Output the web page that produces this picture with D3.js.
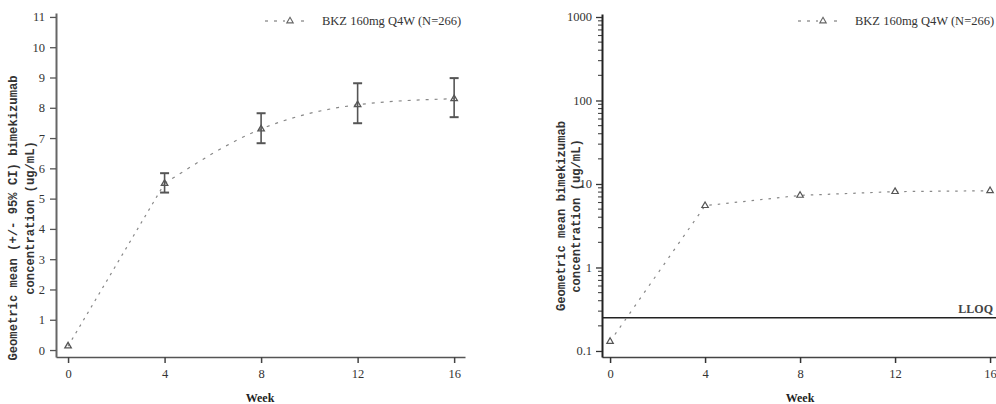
<!DOCTYPE html>
<html>
<head>
<meta charset="utf-8">
<script src="https://cdn.jsdelivr.net/npm/d3@7"></script>
<style>
  html, body { margin: 0; padding: 0; background: #fff; }
  svg { display: block; }
  .tick text { font-family: "Liberation Serif", "Times New Roman", serif; font-size: 12.5px; fill: #333; }
</style>
</head>
<body>
<svg id="chart" width="996" height="404"></svg>
<script>
// Bimekizumab geometric mean concentrations by study week
const weeks = [0, 4, 8, 12, 16];
const geoMean = [0.13, 5.5, 7.3, 8.1, 8.3];
const ciLower = [null, 5.2, 6.83, 7.49, 7.69];
const ciUpper = [null, 5.84, 7.82, 8.81, 8.98];
const xTicks = [0, 4, 8, 12, 16];
const linTicks = [0, 1, 2, 3, 4, 5, 6, 7, 8, 9, 10, 11];
const logTicks = [0.1, 1, 10, 100, 1000];
const lloq = 0.25;
const seriesLabel = "BKZ 160mg Q4W (N=266)";

const svg = d3.select("#chart");
const serif = '"Liberation Serif", "Times New Roman", serif';
const mono = '"Liberation Mono", "Courier New", monospace';
const markColor = "#666";

const points = weeks.map((w, i) => ({ w, m: geoMean[i], lo: ciLower[i], hi: ciUpper[i] }));
const tri = d3.symbol().type(d3.symbolTriangle).size(18);

function legend(g, x0, y) {
  g.append("line")
    .attr("x1", x0).attr("x2", x0 + 43).attr("y1", y).attr("y2", y)
    .attr("stroke", markColor).attr("stroke-width", 1.1).attr("stroke-dasharray", "3,6");
  g.append("rect").attr("x", x0 + 20).attr("y", y - 4).attr("width", 10).attr("height", 8).attr("fill", "#fff");
  g.append("path").attr("d", tri).attr("transform", `translate(${x0 + 25},${y})`)
    .attr("fill", "none").attr("stroke", markColor).attr("stroke-width", 1.1);
  g.append("text").attr("x", x0 + 57).attr("y", y + 4)
    .attr("font-family", serif).attr("font-size", 12.5).attr("fill", "#333")
    .text(seriesLabel);
}

function yTitle(g, x1, x2, cy, lines) {
  [x1, x2].forEach((x, i) => {
    g.append("text")
      .attr("transform", `translate(${x},${cy}) rotate(-90)`)
      .attr("text-anchor", "middle")
      .attr("font-family", mono).attr("font-weight", "bold").attr("font-size", 12.2)
      .attr("fill", "#333")
      .text(lines[i]);
  });
}

function xTitle(g, x) {
  g.append("text").attr("x", x).attr("y", 402).attr("text-anchor", "middle")
    .attr("font-family", serif).attr("font-weight", "bold").attr("font-size", 12)
    .attr("fill", "#222").text("Week");
}

/* ---------- Left panel: linear scale with 95% CI ---------- */
{
  const g = svg.append("g");
  const x = d3.scaleLinear().domain([-0.5, 16.45]).range([56, 465]);
  const y = d3.scaleLinear().domain([-0.23, 11.13]).range([357, 13]);

  const xa = g.append("g").attr("transform", "translate(0,357)")
    .call(d3.axisBottom(x).tickValues(xTicks).tickSize(6).tickSizeOuter(0).tickPadding(6));
  xa.select(".domain").attr("stroke", "#555").attr("stroke-width", 1.6);
  xa.selectAll(".tick line").attr("stroke", "#444").attr("stroke-width", 1.5);

  const ya = g.append("g").attr("transform", "translate(56,0)")
    .call(d3.axisLeft(y).tickValues(linTicks).tickSize(6).tickSizeOuter(0).tickPadding(5));
  ya.select(".domain").attr("stroke", "#666").attr("stroke-width", 2);
  ya.selectAll(".tick line").attr("stroke", "#555").attr("stroke-width", 1.3);

  // straight rise from baseline to week 4, smoothed profile afterwards
  const lin = d3.line().x(d => x(d.w)).y(d => y(d.m));
  const smooth = d3.line().x(d => x(d.w)).y(d => y(d.m)).curve(d3.curveMonotoneX);
  g.append("path").attr("d", lin(points.slice(0, 2)))
    .attr("fill", "none").attr("stroke", "#888").attr("stroke-width", 1.2).attr("stroke-dasharray", "2.5,5");
  g.append("path").attr("d", smooth(points.slice(1)))
    .attr("fill", "none").attr("stroke", "#888").attr("stroke-width", 1.2).attr("stroke-dasharray", "3,6");

  // error bars
  const eb = g.selectAll("g.eb").data(points.filter(d => d.lo != null)).join("g");
  eb.append("line").attr("x1", d => x(d.w)).attr("x2", d => x(d.w))
    .attr("y1", d => y(d.lo)).attr("y2", d => y(d.hi))
    .attr("stroke", "#555").attr("stroke-width", 1.6);
  ["lo", "hi"].forEach(k => {
    eb.append("line").attr("x1", d => x(d.w) - 4.5).attr("x2", d => x(d.w) + 4.5)
      .attr("y1", d => y(d[k])).attr("y2", d => y(d[k]))
      .attr("stroke", "#555").attr("stroke-width", 2);
  });

  g.selectAll("path.mk").data(points).join("path").attr("class", "mk")
    .attr("d", tri).attr("transform", d => `translate(${x(d.w)},${y(d.m)})`)
    .attr("fill", "none").attr("stroke", "#555").attr("stroke-width", 1.3);

  legend(g, 265, 21);
  yTitle(g, 17, 34, 218, ["Geometric mean (+/- 95% CI) bimekizumab", "concentration (ug/mL)"]);
  xTitle(g, 260);
}

/* ---------- Right panel: log scale with LLOQ ---------- */
{
  const g = svg.append("g");
  const x = d3.scaleLinear().domain([-0.34, 16.25]).range([602, 996]);
  const y = d3.scaleLog().domain([0.0847, 1086]).range([357, 14]);

  const xa = g.append("g").attr("transform", "translate(0,357)")
    .call(d3.axisBottom(x).tickValues(xTicks).tickSize(6).tickSizeOuter(0).tickPadding(6));
  xa.select(".domain").attr("stroke", "#444").attr("stroke-width", 1.6);
  xa.selectAll(".tick line").attr("stroke", "#333").attr("stroke-width", 1.5);

  // minor ticks for each decade
  const minor = [];
  for (let e = -1; e < 3; e++) for (let k = 2; k <= 9; k++) minor.push(k * Math.pow(10, e));
  g.selectAll("line.minor").data(minor).join("line").attr("class", "minor")
    .attr("x1", 598).attr("x2", 602).attr("y1", d => y(d)).attr("y2", d => y(d))
    .attr("stroke", "#444").attr("stroke-width", 1.1);

  const ya = g.append("g").attr("transform", "translate(602,0)")
    .call(d3.axisLeft(y).tickValues(logTicks).tickFormat(d3.format("~g")).tickSize(6).tickSizeOuter(0).tickPadding(4));
  ya.select(".domain").attr("stroke", "#222").attr("stroke-width", 2);
  ya.selectAll(".tick line").attr("stroke", "#333").attr("stroke-width", 1.3);

  // lower limit of quantification
  g.append("line").attr("x1", 602).attr("x2", 996).attr("y1", y(lloq)).attr("y2", y(lloq))
    .attr("stroke", "#222").attr("stroke-width", 1.5);
  g.append("text").attr("x", 993).attr("y", y(lloq) - 5).attr("text-anchor", "end")
    .attr("font-family", serif).attr("font-weight", "600").attr("font-size", 12).attr("fill", "#444")
    .text("LLOQ");

  const lin = d3.line().x(d => x(d.w)).y(d => y(d.m));
  g.append("path").attr("d", lin(points))
    .attr("fill", "none").attr("stroke", "#888").attr("stroke-width", 1.2).attr("stroke-dasharray", "2.5,6");

  g.selectAll("path.mk").data(points).join("path").attr("class", "mk")
    .attr("d", tri).attr("transform", d => `translate(${x(d.w)},${y(d.m)})`)
    .attr("fill", "#fff").attr("stroke", "#555").attr("stroke-width", 1.2);

  legend(g, 798, 21);
  yTitle(g, 565, 580, 216, ["Geometric mean bimekizumab", "concentration (ug/mL)"]);
  xTitle(g, 800);
}
</script>
</body>
</html>
